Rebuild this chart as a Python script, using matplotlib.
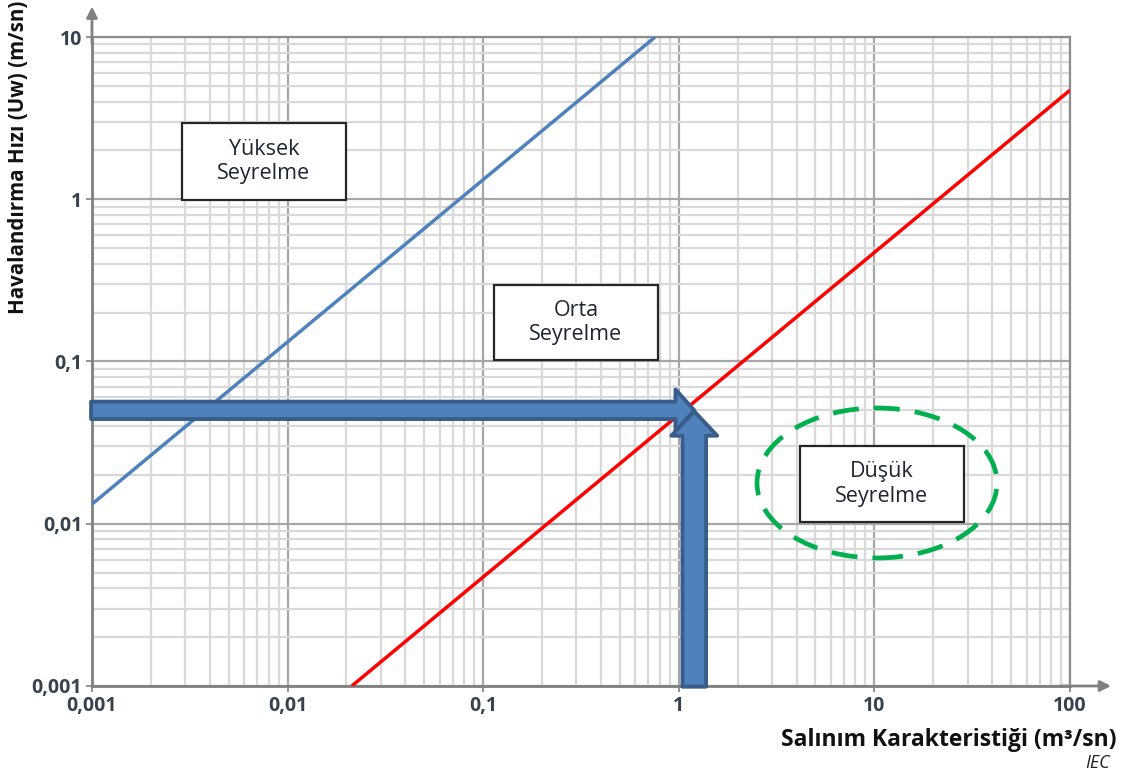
import matplotlib
matplotlib.use("Agg")
import matplotlib.pyplot as plt
from matplotlib.patches import Rectangle, Ellipse
from matplotlib.ticker import FixedLocator, FixedFormatter, LogLocator, NullFormatter

plt.rcParams['font.family'] = ['Open Sans', 'DejaVu Sans']

# Boundary lines between dilution zones (release characteristic vs. ventilation velocity)
high_x = [0.001, 0.757]
high_y = [0.0132, 10.0]
low_x = [0.0213, 100.0]
low_y = [0.001, 4.7]

# Worked example: reading point on the chart
example_x = 1.2
example_y = 0.05

tick_values = [0.001, 0.01, 0.1, 1, 10, 100]
x_tick_labels = ['0,001', '0,01', '0,1', '1', '10', '100']
y_tick_values = [0.001, 0.01, 0.1, 1, 10]
y_tick_labels = ['0,001', '0,01', '0,1', '1', '10']

zone_labels = ['Yüksek\nSeyrelme', 'Orta\nSeyrelme', 'Düşük\nSeyrelme']

fig = plt.figure(figsize=(11.27, 7.76), dpi=100)
ax = fig.add_axes([0.0816, 0.1160, 0.8678, 0.8363])
ax.set_xscale('log')
ax.set_yscale('log')
ax.set_xlim(0.001, 100)
ax.set_ylim(0.001, 10)

# Grid
ax.xaxis.set_minor_locator(LogLocator(base=10, subs=range(2, 10)))
ax.yaxis.set_minor_locator(LogLocator(base=10, subs=range(2, 10)))
ax.xaxis.set_minor_formatter(NullFormatter())
ax.yaxis.set_minor_formatter(NullFormatter())
ax.grid(which='minor', color='#d9d9d9', lw=1.6, zorder=0)
ax.grid(which='major', color='#a6a6a6', lw=1.6, zorder=0)
ax.set_axisbelow(True)

ax.xaxis.set_major_locator(FixedLocator(tick_values))
ax.xaxis.set_major_formatter(FixedFormatter(x_tick_labels))
ax.yaxis.set_major_locator(FixedLocator(y_tick_values))
ax.yaxis.set_major_formatter(FixedFormatter(y_tick_labels))
ax.tick_params(which='major', length=4, width=1.2, color='#808080',
               labelsize=14, labelcolor='#36424f', pad=3)
ax.tick_params(which='minor', length=0)
for lab in ax.get_xticklabels() + ax.get_yticklabels():
    lab.set_fontweight('bold')

for s in ax.spines.values():
    s.set_color('#8c8c8c')
    s.set_linewidth(1.6)
ax.spines['left'].set_color('#7f7f7f')
ax.spines['bottom'].set_color('#7f7f7f')
ax.spines['left'].set_linewidth(2)
ax.spines['bottom'].set_linewidth(2)

# Axis arrows
ax.annotate('', xy=(0, 1.047), xytext=(0, 0.99), xycoords='axes fraction',
            arrowprops=dict(arrowstyle='-|>', color='#808080', lw=2,
                            mutation_scale=16, shrinkA=0, shrinkB=0),
            annotation_clip=False)
ax.annotate('', xy=(1.042, 0), xytext=(0.99, 0), xycoords='axes fraction',
            arrowprops=dict(arrowstyle='-|>', color='#808080', lw=2,
                            mutation_scale=16, shrinkA=0, shrinkB=0),
            annotation_clip=False)

# Zone boundary lines
ax.plot(high_x, high_y, color='#4f81bd', lw=2.5, zorder=3, solid_capstyle='butt')
ax.plot(low_x, low_y, color='#ff0000', lw=2.5, zorder=3, solid_capstyle='butt')

# Zone label boxes (axes fraction)
boxes = [(0.092, 0.7488, 0.1677, 0.1187),
         (0.411, 0.5023, 0.1677, 0.1156),
         (0.7239, 0.2527, 0.1677, 0.1171)]
for (bx, by, bw, bh), txt in zip(boxes, zone_labels):
    ax.add_patch(Rectangle((bx, by), bw, bh, transform=ax.transAxes,
                           facecolor='white', edgecolor='#262626', lw=1.6, zorder=4))
    ax.text(bx + bw / 2, by + bh / 2, txt, transform=ax.transAxes,
            ha='center', va='center', fontsize=15.5, color='#1e2533',
            linespacing=1.2, zorder=5)

# Highlight around the low-dilution zone
ax.add_patch(Ellipse((0.8027, 0.3128), 0.2454, 0.2311, transform=ax.transAxes,
                     fill=False, edgecolor='#00b050', lw=3.4,
                     linestyle=(0, (5.5, 3.2)), zorder=5))

# Reading arrows pointing at the example point
ax.annotate('', xy=(example_x, example_y), xytext=(0.00099, example_y),
            arrowprops=dict(arrowstyle='simple,head_length=1.35,head_width=3.0,tail_width=1.25',
                            fc='#4f81bd', ec='#385d8a', lw=2.8, mutation_scale=10,
                            shrinkA=0, shrinkB=0),
            annotation_clip=False, zorder=6)
ax.annotate('', xy=(example_x, example_y * 0.985), xytext=(example_x, 0.00099),
            arrowprops=dict(arrowstyle='simple,head_length=1.75,head_width=3.3,tail_width=1.7',
                            fc='#4f81bd', ec='#385d8a', lw=2.8, mutation_scale=10,
                            shrinkA=0, shrinkB=0),
            annotation_clip=False, zorder=7)

# Axis titles
fig.text(0.016, 0.797, 'Havalandırma Hızı (Uw) (m/sn)', rotation=90,
         ha='center', va='center', fontsize=14.8, fontweight='bold', color='#111111')
fig.text(0.991, 0.0464, 'Salınım Karakteristiği (m³/sn)', ha='right', va='center',
         fontsize=16.5, fontweight='bold', color='#111111')
fig.text(0.985, 0.017, 'IEC', ha='right', va='center', fontsize=13,
         style='italic', color='#222222')

fig.savefig('out.png', dpi=100)
